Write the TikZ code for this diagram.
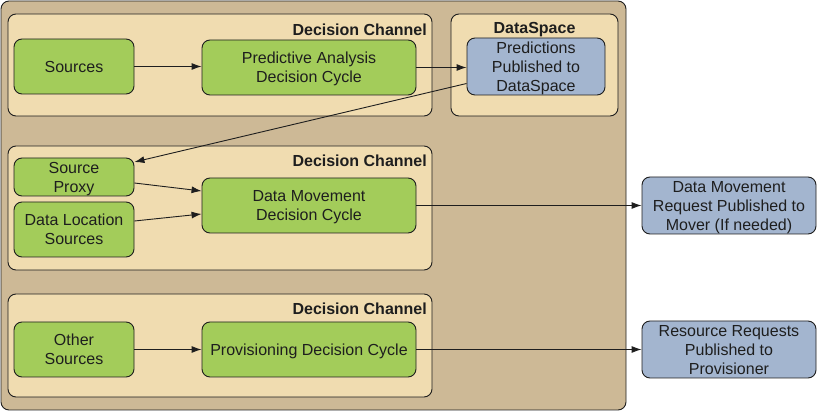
\documentclass[tikz,border=0pt]{standalone}
\usepackage{fontspec}
\setmainfont{Liberation Sans}
\usetikzlibrary{arrows.meta,calc}
\definecolor{outerfill}{HTML}{CDB996}
\definecolor{chanfill}{HTML}{F0DCB0}
\definecolor{greenfill}{HTML}{A3CC5A}
\definecolor{bluefill}{HTML}{A3B5CF}
\definecolor{inkc}{HTML}{1E1E1E}
\newcommand\lowtext[1]{\raisebox{-2pt}[\height][\depth]{\begin{tabular}{@{}c@{}}#1\end{tabular}}}
\tikzset{
  outerbox/.style={draw=inkc, line width=0.9pt, fill=outerfill, rounded corners=8pt, inner sep=0pt},
  chanbox/.style={draw=inkc, line width=0.9pt, fill=chanfill, rounded corners=8pt, inner sep=0pt},
  gbox/.style={draw=inkc, line width=0.9pt, fill=greenfill, rounded corners=8pt, inner sep=0pt, text=inkc, font=\fontsize{16}{19}\selectfont},
  bbox/.style={draw=inkc, line width=0.9pt, fill=bluefill, rounded corners=8pt, inner sep=0pt, text=inkc, font=\fontsize{16}{19}\selectfont},
  title/.style={font=\fontsize{16}{18.5}\selectfont\bfseries, text=inkc, inner sep=0pt},
  conn/.style={draw=inkc, line width=0.9pt, -{Latex[length=10pt,width=7pt]}}
}
\begin{document}
\begin{tikzpicture}[x=1pt,y=-1pt]
\useasboundingbox (0,0) rectangle (817,411);
% containers
\node[outerbox, minimum width=625pt, minimum height=409pt] (outer) at (313.5,205.5) {};
\node[chanbox, minimum width=424pt, minimum height=102pt] (ch1) at (220,65) {};
\node[chanbox, minimum width=167pt, minimum height=102pt] (ds) at (534.5,65) {};
\node[chanbox, minimum width=424pt, minimum height=124pt] (ch2) at (220,208) {};
\node[chanbox, minimum width=424pt, minimum height=103pt] (ch3) at (220,345.5) {};
% titles
\node[title, anchor=east] (t1) at (427,29.5) {Decision Channel};
\node[title] (t2) at (534.5,29.5) {DataSpace};
\node[title, anchor=east] (t3) at (427,161) {Decision Channel};
\node[title, anchor=east] (t4) at (427,308.5) {Decision Channel};
% nodes
\node[gbox, minimum width=120pt, minimum height=55pt] (src) at (74,66.5) {\lowtext{Sources}};
\node[gbox, minimum width=214pt, minimum height=55pt] (pred) at (309,67.5) {\lowtext{Predictive Analysis\\Decision Cycle}};
\node[bbox, minimum width=138pt, minimum height=55pt] (pub) at (536,66.5) {\lowtext{Predictions\\Published to\\DataSpace}};
\node[gbox, minimum width=120pt, minimum height=38pt] (proxy) at (74,177) {\lowtext{Source\\Proxy}};
\node[gbox, minimum width=120pt, minimum height=55pt] (dloc) at (74,229.5) {\lowtext{Data Location\\Sources}};
\node[gbox, minimum width=214pt, minimum height=55pt] (dmdc) at (309,205.5) {\lowtext{Data Movement\\Decision Cycle}};
\node[bbox, minimum width=174pt, minimum height=55pt] (dmr) at (729,205.5) {\lowtext{Data Movement\\Request Published to\\Mover (If needed)}};
\node[gbox, minimum width=120pt, minimum height=55pt] (other) at (74,349.5) {\lowtext{Other\\Sources}};
\node[gbox, minimum width=214pt, minimum height=55pt] (prov) at (309,349.5) {\lowtext{Provisioning Decision Cycle}};
\node[bbox, minimum width=174pt, minimum height=55pt] (rr) at (729,349.5) {\lowtext{Resource Requests\\Published to\\Provisioner}};
% connectors
\draw[conn] (src.east) -- (pred.west |- src.east);
\draw[conn] (pred.east) -- (pub.west |- pred.east);
\draw[conn] ([yshift=-17pt]pub.west) -- ([yshift=15pt]proxy.east);
\draw[conn] ([yshift=-6pt]proxy.east) -- ([yshift=14.5pt]dmdc.west);
\draw[conn] ([yshift=8.5pt]dloc.east) -- ([yshift=-8.5pt]dmdc.west);
\draw[conn] (dmdc.east) -- (dmr.west);
\draw[conn] (other.east) -- (prov.west);
\draw[conn] (prov.east) -- (rr.west);
\end{tikzpicture}
\end{document}
